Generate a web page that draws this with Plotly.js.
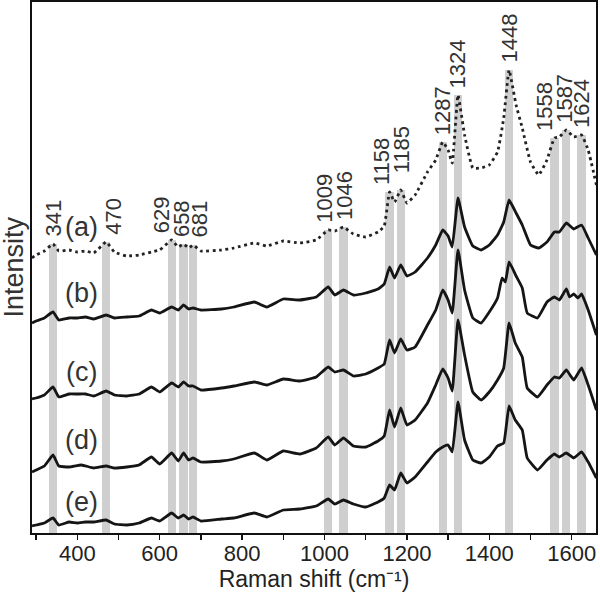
<!DOCTYPE html>
<html>
<head>
<meta charset="utf-8">
<script src="https://cdn.plot.ly/plotly-3.0.1.min.js"></script>
<style>html,body{margin:0;padding:0;background:#fff;}#chart{width:600px;height:602px;}</style>
</head>
<body>
<div id="chart"></div>
<script>
// Raman shift grids (cm^-1) and intensities (arbitrary units, stacked)
var xA = [290,300,320,341,355,380,400,420,440,470,490,520,550,580,600,629,645,658,670,681,700,750,780,830,860,900,940,980,1009,1025,1046,1070,1100,1130,1145,1158,1170,1185,1200,1220,1250,1270,1287,1300,1310,1324,1340,1360,1380,1400,1420,1435,1448,1465,1480,1500,1520,1540,1558,1570,1587,1605,1624,1640,1660];
var yA = [275,278,282,289,282,283,281,282,280,291,281,277,278,281,283,293,286,289,285,288,282,283,285,290,287,292,290,293,303,302,306,299,296,301,307,341,331,343,330,338,361,373,391,383,370,438,398,365,365,368,381,415,463,428,405,371,358,373,395,396,403,396,398,383,348];

var xB = xA;
var yB = [210,212,215,221,213,215,215,216,214,218,215,216,217,223,220,226,223,228,224,225,223,224,226,231,226,234,233,236,246,238,243,238,240,244,249,266,255,268,257,261,275,288,303,297,286,335,306,287,283,288,298,311,333,320,308,288,285,291,301,301,310,304,308,295,278];

var xC = [290,300,320,341,355,380,400,420,440,470,490,520,550,580,600,629,645,658,670,681,700,750,780,830,860,900,940,980,1009,1025,1046,1070,1100,1130,1145,1158,1170,1185,1200,1220,1250,1270,1287,1300,1310,1324,1340,1360,1380,1400,1420,1431,1439,1448,1465,1480,1492,1517,1540,1558,1570,1587,1595,1605,1615,1624,1640,1660];
var yC = [134,135,138,146,136,139,139,139,137,142,138,137,139,146,141,150,146,151,147,147,143,145,147,151,148,154,152,156,166,161,163,157,159,165,169,193,180,194,183,186,208,223,243,233,220,283,243,215,210,221,235,255,251,271,257,245,220,215,231,236,233,244,236,239,235,239,223,198];

var xD = [290,300,320,341,355,380,410,440,470,490,520,550,580,600,629,645,658,670,681,700,750,780,830,860,900,940,980,1009,1025,1046,1070,1100,1130,1145,1158,1170,1185,1200,1220,1250,1270,1287,1300,1310,1324,1340,1360,1380,1400,1420,1435,1448,1463,1480,1492,1517,1540,1558,1570,1587,1605,1624,1640,1660];
var yD = [61,63,67,78,67,66,68,65,67,65,66,68,76,69,80,72,80,73,75,71,72,74,80,73,82,79,85,96,88,95,87,86,92,97,123,106,125,108,113,130,148,164,155,142,213,178,141,133,141,153,165,210,190,176,145,136,148,156,155,163,153,165,148,123];

var xE = [290,300,320,341,355,380,400,420,440,470,490,520,550,580,600,629,645,658,670,681,700,750,780,830,860,900,940,980,1009,1025,1046,1070,1100,1130,1145,1158,1170,1185,1200,1220,1250,1270,1287,1300,1310,1324,1340,1360,1380,1400,1420,1435,1448,1463,1480,1492,1517,1540,1558,1570,1587,1605,1624,1640,1660];
var yE = [7,8,10,15,8,11,10,11,11,13,9,8,10,15,12,20,15,18,14,16,12,14,15,20,16,23,24,27,34,29,33,29,26,31,35,48,43,60,50,56,71,81,86,88,81,131,93,73,70,76,87,90,127,113,103,75,63,73,79,76,80,75,81,71,55];

var peaks = [341,470,629,658,681,1009,1046,1158,1185,1287,1324,1448,1558,1587,1624];
var peakLabels = ["341","470","629","658","681","1009","1046","1158","1185","1287","1324","1448","1558","1587","1624"];
var seriesLabels = ["(a)","(b)","(c)","(d)","(e)"];
var seriesLabelY = [306,240,161,93,31];

// label nudges in px (layout only)
var labelShiftX = [0,7,-10,-2,6,-4,1,-8,1,0,0,0,-10,-2,0];
var labelShiftY = [5,5,5,5,5,5,5,5,15,5,5,5,5,5,5];

function interp(xs, ys, x) {
  for (var i = 0; i < xs.length - 1; i++) {
    if (x >= xs[i] && x <= xs[i+1]) {
      var t = (x - xs[i]) / (xs[i+1] - xs[i]);
      return ys[i] + t * (ys[i+1] - ys[i]);
    }
  }
  return ys[ys.length-1];
}
var bandTops = peaks.map(function(p){ return interp(xA, yA, p); });

var FONT = '"Liberation Sans", Arial, Helvetica, sans-serif';
var lineCol = '#151515';
var solid = {color:lineCol, width:2.8, shape:'spline', smoothing:0.35};

var traces = [
  {type:'bar', x:peaks, y:bandTops, width:20, marker:{color:'#cfcfcf', line:{width:0}}, hoverinfo:'skip', showlegend:false},
  {type:'scatter', mode:'lines', x:xE, y:yE, line:solid, showlegend:false},
  {type:'scatter', mode:'lines', x:xD, y:yD, line:solid, showlegend:false},
  {type:'scatter', mode:'lines', x:xC, y:yC, line:solid, showlegend:false},
  {type:'scatter', mode:'lines', x:xB, y:yB, line:solid, showlegend:false},
  {type:'scatter', mode:'lines', x:xA, y:yA, line:{color:'#222', width:2.8, dash:'2.8px,3.6px', shape:'spline', smoothing:0.35}, showlegend:false}
];

var annotations = [];
peaks.forEach(function(p, i){
  annotations.push({x:p, y:bandTops[i], xref:'x', yref:'y', text:peakLabels[i], showarrow:false,
    textangle:-90, xanchor:'center', yanchor:'bottom', xshift:labelShiftX[i], yshift:labelShiftY[i],
    font:{family:FONT, size:22, color:'#333'}});
});
seriesLabels.forEach(function(s, i){
  annotations.push({x:411, y:seriesLabelY[i], xref:'x', yref:'y', text:s, showarrow:false,
    xanchor:'center', yanchor:'middle', font:{family:FONT, size:27, color:'#333'}});
});
annotations.push({x:0, y:0.5, xref:'paper', yref:'paper', text:'Intensity', showarrow:false,
  textangle:-90, xanchor:'center', yanchor:'middle', xshift:-19, font:{family:FONT, size:27, color:'#333'}});

var layout = {
  width:600, height:602,
  margin:{l:32, r:4, t:2, b:69},
  paper_bgcolor:'#fff', plot_bgcolor:'#fff',
  font:{family:FONT, color:'#222'},
  bargap:0,
  xaxis:{range:[290,1659], tickvals:[400,600,800,1000,1200,1400,1600], ticks:'outside', ticklen:5, tickwidth:1.5,
    tickcolor:'#111', showline:true, linecolor:'#111', linewidth:1.6, mirror:true, showgrid:false, zeroline:false,
    tickfont:{family:FONT, size:22, color:'#222'}, ticklabelstandoff:-5,
    minor:{tickvals:[300,500,700,900,1100,1300,1500], ticks:'outside', ticklen:5, tickwidth:1.5, tickcolor:'#111', showgrid:false},
    title:{text:'Raman shift (cm\u207B\u00B9)', font:{family:FONT, size:23, color:'#222'}, standoff:1}},
  yaxis:{range:[0,531], showticklabels:false, ticks:'', showline:true, linecolor:'#111', linewidth:1.6, mirror:true,
    showgrid:false, zeroline:false},
  annotations:annotations
};

Plotly.newPlot('chart', traces, layout, {displayModeBar:false, staticPlot:true});
</script>
</body>
</html>
